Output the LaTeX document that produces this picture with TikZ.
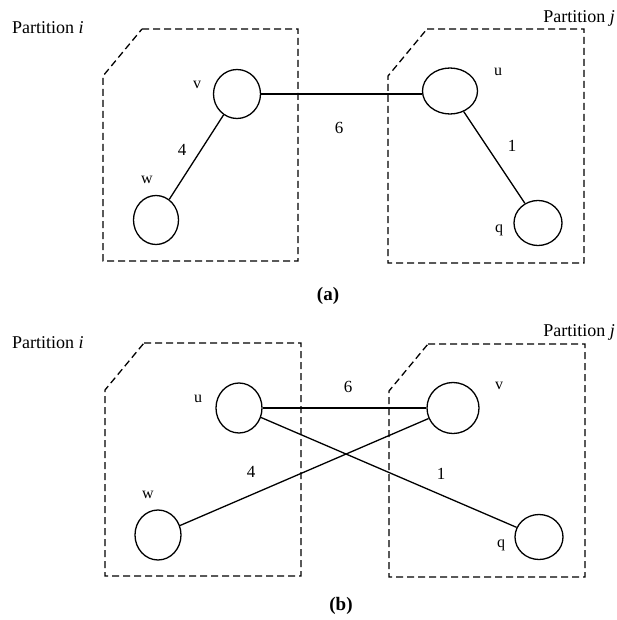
\documentclass[tikz,border=0pt]{standalone}
\usepackage{fontspec}
\setmainfont{Liberation Serif}
\usetikzlibrary{shapes.geometric}
\begin{document}
\begin{tikzpicture}[x=1pt, y=-1pt,
        vertex/.style={draw, ellipse, line width=1.3pt, inner sep=0pt},
        partbox/.style={draw, line width=1.3pt, dash pattern=on 7pt off 4pt},
        edge/.style={line width=1.3pt},
        namelbl/.style={font=\fontsize{16}{18}\selectfont, inner sep=0pt},
        weightlbl/.style={font=\fontsize{17}{19}\selectfont, inner sep=0pt},
        partlbl/.style={font=\fontsize{18}{21}\selectfont, inner sep=0pt},
        caplbl/.style={font=\fontsize{19}{22}\selectfont\bfseries, inner sep=0pt}
      ]
      \useasboundingbox (0,0) rectangle (616,620);
      \foreach \xl/\xr/\yt/\yb in {%
        103/298/29/261, 388/584/29/263,
        105/301/343/576, 389/585/344/577%
      }{
        \draw[partbox] (\xl+39,\yt) -- (\xr,\yt) -- (\xr,\yb) -- (\xl,\yb)
          -- (\xl,\yt+47) -- cycle;
      }
      \node[partlbl, anchor=west] (pia) at (12,28) {Partition \textit{i}};
      \node[partlbl, anchor=east] (pja) at (615,18) {Partition \textit{j}};
      \node[partlbl, anchor=west] (pib) at (12,343) {Partition \textit{i}};
      \node[partlbl, anchor=east] (pjb) at (615,332) {Partition \textit{j}};
      \foreach \n/\x/\y/\w/\h in {%
        av/237/94/47/49, aw/156/220/45/49, au/450/91/55/46, aq/538/223/48/45,
        bu/239/408/46/50, bw/158/535/46/50, bv/453/408/52/51, bq/539/537/48/45%
      }{
        \node[vertex, minimum width=\w pt, minimum height=\h pt] (\n) at (\x,\y) {};
      }
      \foreach \n/\x/\y/\t in {%
        lav/197/85/v, law/147/180/w, lau/498/72/u, laq/499/230/q,
        lbu/198/399/u, lbw/148/495/w, lbv/499/386/v, lbq/501/545/q%
      }{
        \node[namelbl] (\n) at (\x,\y) {\t};
      }
      \foreach \n/\x/\y/\t in {%
        wa4/182/150/4, wa6/339/128/6, wa1/512/146/1,
        wb6/348/387/6, wb4/251/472/4, wb1/441/474/1%
      }{
        \node[weightlbl] (\n) at (\x,\y) {\t};
      }
      \draw[edge] (av) -- (aw);
      \draw[edge] (av.east) -- (av.east -| au.west);
      \draw[edge] (au) -- (aq);
      \draw[edge] (bu.east) -- (bv.west);
      \draw[edge] (bu) -- (bq);
      \draw[edge] (bw) -- (bv);
      \node[caplbl] (capa) at (328,296) {(a)};
      \node[caplbl] (capb) at (341,606) {(b)};
    \end{tikzpicture}
\end{document}
